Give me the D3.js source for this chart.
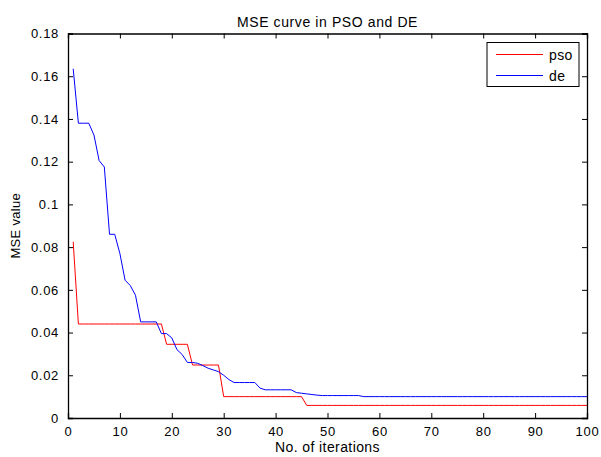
<!DOCTYPE html>
<html>
<head>
<meta charset="utf-8">
<script src="https://cdn.jsdelivr.net/npm/d3@7"></script>
<style>
  body { margin: 0; background: #fff; }
  svg { display: block; font-family: "Liberation Sans", Arial, sans-serif; }
  .tick text { font-size: 13px; letter-spacing: 0.7px; fill: #000; }
</style>
</head>
<body>
<div id="chart"></div>
<script>
const iterations = d3.range(1, 101);

// MSE per iteration
const psoValues = [
  0.0825, 0.0440, 0.0440, 0.0440, 0.0440, 0.0440, 0.0440, 0.0440, 0.0440, 0.0440,
  0.0440, 0.0440, 0.0440, 0.0440, 0.0440, 0.0440, 0.0440, 0.0440, 0.0345, 0.0345,
  0.0345, 0.0345, 0.0345, 0.0248, 0.0248, 0.0248, 0.0248, 0.0248, 0.0248, 0.0100,
  0.0100, 0.0100, 0.0100, 0.0100, 0.0100, 0.0100, 0.0100, 0.0100, 0.0100, 0.0100,
  0.0100, 0.0100, 0.0100, 0.0100, 0.0100, 0.0059, 0.0059, 0.0059, 0.0059, 0.0059,
  0.0059, 0.0059, 0.0059, 0.0059, 0.0059, 0.0059, 0.0059, 0.0059, 0.0059, 0.0059,
  0.0059, 0.0059, 0.0059, 0.0059, 0.0059, 0.0059, 0.0059, 0.0059, 0.0059, 0.0059,
  0.0059, 0.0059, 0.0059, 0.0059, 0.0059, 0.0059, 0.0059, 0.0059, 0.0059, 0.0059,
  0.0059, 0.0059, 0.0059, 0.0059, 0.0059, 0.0059, 0.0059, 0.0059, 0.0059, 0.0059,
  0.0059, 0.0059, 0.0059, 0.0059, 0.0059, 0.0059, 0.0059, 0.0059, 0.0059, 0.0059
];
const deValues = [
  0.1635, 0.1380, 0.1380, 0.1380, 0.1325, 0.1205, 0.1175, 0.0860, 0.0860, 0.0770,
  0.0645, 0.0620, 0.0575, 0.0450, 0.0450, 0.0450, 0.0450, 0.0395, 0.0395, 0.0375,
  0.0320, 0.0297, 0.0260, 0.0260, 0.0256, 0.0245, 0.0233, 0.0225, 0.0217, 0.0200,
  0.0180, 0.0166, 0.0166, 0.0166, 0.0166, 0.0166, 0.0140, 0.0132, 0.0132, 0.0132,
  0.0132, 0.0132, 0.0132, 0.0119, 0.0116, 0.0113, 0.0110, 0.0107, 0.0105, 0.0105,
  0.0105, 0.0105, 0.0105, 0.0105, 0.0105, 0.0105, 0.0100, 0.0100, 0.0100, 0.0100,
  0.0100, 0.0100, 0.0100, 0.0100, 0.0100, 0.0100, 0.0100, 0.0100, 0.0100, 0.0100,
  0.0100, 0.0100, 0.0100, 0.0100, 0.0100, 0.0100, 0.0100, 0.0100, 0.0100, 0.0100,
  0.0100, 0.0100, 0.0100, 0.0100, 0.0100, 0.0100, 0.0100, 0.0100, 0.0100, 0.0100,
  0.0100, 0.0100, 0.0100, 0.0100, 0.0100, 0.0100, 0.0100, 0.0100, 0.0100, 0.0100
];
const xTicks = [0, 10, 20, 30, 40, 50, 60, 70, 80, 90, 100];
const yTicks = [0, 0.02, 0.04, 0.06, 0.08, 0.1, 0.12, 0.14, 0.16, 0.18];
const seriesNames = ["pso", "de"];
const seriesColors = ["#ff0000", "#0000ff"];

const width = 601, height = 457;
const margin = { top: 33.5, right: 14, bottom: 39, left: 68 };
const innerW = width - margin.left - margin.right;
const innerH = height - margin.top - margin.bottom;

const svg = d3.select("#chart")
    .append("svg")
    .attr("width", width)
    .attr("height", height);

const g = svg.append("g")
    .attr("transform", "translate(" + margin.left + "," + margin.top + ")");

const x = d3.scaleLinear().domain([0, 100]).range([0, innerW]);
const y = d3.scaleLinear().domain([0, 0.18]).range([innerH, 0]);

// lines first, axes drawn over them
const series = [psoValues, deValues];
const line = d3.line()
    .x(function(d, i) { return x(iterations[i]); })
    .y(function(d) { return y(d); });

series.forEach(function(vals, k) {
    g.append("path")
        .datum(vals)
        .attr("fill", "none")
        .attr("stroke", seriesColors[k])
        .attr("stroke-width", 1)
        .attr("d", line);
});

// MATLAB style box with inward ticks on all sides
const fmt = function(d) { return d === 0 ? "0" : String(+d.toFixed(2)); };

g.append("g")
    .attr("transform", "translate(0," + innerH + ")")
    .call(d3.axisBottom(x).tickValues(xTicks).tickSize(-5).tickPadding(9).tickFormat(fmt));
g.append("g")
    .call(d3.axisTop(x).tickValues(xTicks).tickSize(-5).tickFormat(""));
g.append("g")
    .call(d3.axisLeft(y).tickValues(yTicks).tickSize(-5).tickPadding(9).tickFormat(fmt));
g.append("g")
    .attr("transform", "translate(" + innerW + ",0)")
    .call(d3.axisRight(y).tickValues(yTicks).tickSize(-5).tickFormat(""));

g.selectAll(".domain").attr("stroke", "#000").attr("stroke-width", 1.3);
g.selectAll(".tick line").attr("stroke", "#000");

// titles
svg.append("text")
    .attr("x", margin.left + innerW / 2)
    .attr("y", 27)
    .attr("text-anchor", "middle")
    .style("font-size", "14px")
    .style("letter-spacing", "0.6px")
    .text("MSE curve in PSO and DE");

svg.append("text")
    .attr("x", margin.left + innerW / 2)
    .attr("y", 452)
    .attr("text-anchor", "middle")
    .style("font-size", "14px")
    .style("letter-spacing", "0.4px")
    .text("No. of iterations");

svg.append("text")
    .attr("transform", "translate(20," + (margin.top + innerH / 2) + ") rotate(-90)")
    .attr("text-anchor", "middle")
    .style("font-size", "13px")
    .style("letter-spacing", "0.3px")
    .text("MSE value");

// legend
const legend = svg.append("g").attr("transform", "translate(487,42.5)");
legend.append("rect")
    .attr("width", 92)
    .attr("height", 44)
    .attr("fill", "#fff")
    .attr("stroke", "#000")
    .attr("stroke-width", 1);
seriesNames.forEach(function(name, k) {
    const ly = 12 + k * 21;
    legend.append("line")
        .attr("x1", 9).attr("x2", 56)
        .attr("y1", ly).attr("y2", ly)
        .attr("stroke", seriesColors[k])
        .attr("stroke-width", 1);
    legend.append("text")
        .attr("x", 62)
        .attr("y", ly + 5)
        .style("font-size", "14px")
        .style("letter-spacing", "0.4px")
        .text(name);
});
</script>
</body>
</html>
